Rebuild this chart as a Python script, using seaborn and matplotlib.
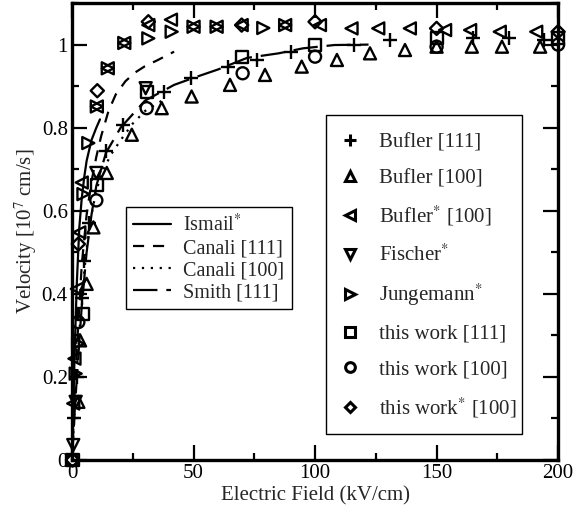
import matplotlib
matplotlib.use("Agg")
import matplotlib.pyplot as plt
from matplotlib.lines import Line2D
from matplotlib.patches import Rectangle
from matplotlib.ticker import MultipleLocator
import seaborn as sns

sns.set_theme(style="ticks")
plt.rcParams["font.family"] = ["Liberation Serif", "DejaVu Serif"]
plt.rcParams["mathtext.fontset"] = "stix"

# ---- model curves (E in kV/cm, v in 1e7 cm/s) ----
ismail_E = [0, 0.5, 1, 1.5, 2, 3, 4, 5, 6, 8, 10, 11.5]
ismail_v = [0, 0.12, 0.24, 0.34, 0.43, 0.56, 0.63, 0.68, 0.72, 0.77, 0.80, 0.82]

canali111_E = [0, 1, 2, 4, 6, 8, 10, 12, 15, 18, 22, 26, 30, 35, 42]
canali111_v = [0, 0.15, 0.27, 0.47, 0.59, 0.67, 0.73, 0.78, 0.84, 0.88, 0.912, 0.933, 0.948, 0.962, 0.983]

canali100_E = [0, 1, 2, 4, 6, 8, 10, 13, 16, 20, 25, 30, 37]
canali100_v = [0, 0.12, 0.22, 0.39, 0.51, 0.59, 0.65, 0.70, 0.735, 0.77, 0.81, 0.84, 0.865]

smith_E = [0, 1, 2, 4, 6, 8, 10, 14, 20, 30, 42, 50, 60, 72, 85, 95, 108, 122]
smith_v = [0, 0.11, 0.20, 0.37, 0.50, 0.59, 0.66, 0.74, 0.80, 0.865, 0.903, 0.92, 0.94, 0.968, 0.979, 0.991, 0.999, 1.0]

# ---- data sets ----
bufler111_E = [1, 2, 4, 5, 7, 14, 21, 38, 49, 64, 76, 90, 116, 131, 165, 180, 194]
bufler111_v = [0.10, 0.20, 0.39, 0.48, 0.57, 0.743, 0.807, 0.887, 0.919, 0.947, 0.963,
               0.983, 1.0, 1.011, 1.015, 1.015, 1.011]

bufler100_E = [2.6, 3.3, 6, 8.8, 14.3, 24.6, 36.9, 49.2, 65, 79.4, 94.5, 109, 122.6,
               137, 150, 164.5, 176.9, 192.6]
bufler100_v = [0.14, 0.288, 0.424, 0.56, 0.691, 0.783, 0.847, 0.875, 0.903, 0.927, 0.947,
               0.963, 0.979, 0.987, 0.995, 0.995, 0.995, 0.995]

buflerS100_E = [0.5, 1, 2, 3, 4, 10.2, 14.7, 21.5, 31.4, 40.7, 50, 59.5, 69.8, 87.7, 102,
                115, 126, 139, 153.5, 163.8, 176, 191]
buflerS100_v = [0.136, 0.244, 0.412, 0.548, 0.668, 0.851, 0.943, 1.004, 1.047, 1.06, 1.043,
                1.043, 1.047, 1.047, 1.047, 1.039, 1.039, 1.039, 1.035, 1.035, 1.031, 1.031]

fischer_E = [0.5, 1.5, 10, 30.3]
fischer_v = [0.036, 0.14, 0.691, 0.895]

jung_E = [1.5, 2.5, 4.7, 6.7, 10.2, 14.7, 21.5, 31.4, 41, 50, 59.5, 78.7, 87.7]
jung_v = [0.208, 0.28, 0.64, 0.763, 0.851, 0.943, 1.004, 1.015, 1.031, 1.043, 1.043, 1.04, 1.047]

tw111_E = [0.2, 4.7, 10.2, 31, 69.8, 100, 150, 200]
tw111_v = [0.0, 0.352, 0.663, 0.887, 0.971, 0.999, 1.015, 1.015]

tw100_E = [0.2, 2.6, 10, 30.7, 70.2, 100, 150, 200]
tw100_v = [0.0, 0.332, 0.625, 0.847, 0.931, 0.971, 0.995, 1.0]

twS100_E = [0.2, 2.6, 10.4, 31.4, 69.8, 100, 150, 200]
twS100_v = [0.0, 0.52, 0.889, 1.055, 1.047, 1.055, 1.039, 1.031]

fig = plt.figure(figsize=(5.73, 5.11), dpi=100)
ax = fig.add_axes([0.1257, 0.0998, 0.8483, 0.8942])

LW = 1.6
line_specs = [
    (ismail_E, ismail_v, "-", r"Ismail$^{*}$"),
    (canali111_E, canali111_v, (0, (5, 4)), "Canali [111]"),
    (canali100_E, canali100_v, (0, (1, 3)), "Canali [100]"),
    (smith_E, smith_v, (0, (11, 4)), "Smith [111]"),
]
for xs, ys, ls, lab in line_specs:
    sns.lineplot(x=xs, y=ys, ax=ax, color="black", linewidth=LW, linestyle=ls,
                 sort=False, estimator=None, legend=False)

MS = 75
EW = 1.7
point_specs = [
    (bufler111_E, bufler111_v, "+", "Bufler [111]"),
    (bufler100_E, bufler100_v, "^", "Bufler [100]"),
    (buflerS100_E, buflerS100_v, "<", r"Bufler$^{*}$ [100]"),
    (fischer_E, fischer_v, "v", r"Fischer$^{*}$"),
    (jung_E, jung_v, ">", r"Jungemann$^{*}$"),
    (tw111_E, tw111_v, "s", "this work [111]"),
    (tw100_E, tw100_v, "o", "this work [100]"),
    (twS100_E, twS100_v, "D", r"this work$^{*}$ [100]"),
]
for xs, ys, mk, lab in point_specs:
    if mk == "+":
        sns.scatterplot(x=xs, y=ys, ax=ax, marker=mk, s=MS * 1.3, color="black",
                        linewidth=EW, legend=False, zorder=3, clip_on=False)
    else:
        size = MS * 0.6 if mk == "D" else MS
        sns.scatterplot(x=xs, y=ys, ax=ax, marker=mk, s=size, facecolor="none",
                        edgecolor="black", linewidth=EW, legend=False, zorder=3,
                        clip_on=False)

ax.set_xlim(0, 200)
ax.set_ylim(0, 1.1)
ax.xaxis.set_major_locator(MultipleLocator(50))
ax.xaxis.set_minor_locator(MultipleLocator(25))
ax.yaxis.set_major_locator(MultipleLocator(0.2))
ax.yaxis.set_minor_locator(MultipleLocator(0.1))
ax.set_yticks([0, 0.2, 0.4, 0.6, 0.8, 1.0])
ax.set_yticklabels(["0", "0.2", "0.4", "0.6", "0.8", "1"])

ax.tick_params(which="both", direction="in", top=True, right=True, width=1.6,
               labelsize=15, colors="black")
ax.tick_params(which="major", length=11, pad=3)
ax.tick_params(which="minor", length=5)
for sp in ax.spines.values():
    sp.set_linewidth(2.4)
    sp.set_color("black")
    sp.set_zorder(4)

ax.set_xlabel("Electric Field (kV/cm)", fontsize=15, labelpad=2)
ax.set_ylabel(r"Velocity [10$^{7}$ cm/s]", fontsize=15, labelpad=2)

# legend for the model curves
line_handles = [Line2D([], [], color="black", linewidth=LW, linestyle=ls, label=lab)
                for _, _, ls, lab in line_specs]
leg1 = ax.legend(handles=line_handles, loc="upper left", bbox_to_anchor=(0.111, 0.554),
                 fontsize=14.5, frameon=True, fancybox=False, edgecolor="black",
                 framealpha=1, handlelength=1.9, handletextpad=0.6, labelspacing=0.15,
                 borderpad=0.35, borderaxespad=0)
leg1.get_frame().set_linewidth(1.0)
leg1.set_zorder(5)
ax.add_artist(leg1)

# legend for the data sets, inside its own box
box = Rectangle((0.5226, 0.0569), 0.4034, 0.6981, transform=ax.transAxes,
                facecolor="white", edgecolor="black", linewidth=1.0, zorder=5)
ax.add_patch(box)

pt_handles = []
for _, _, mk, lab in point_specs:
    if mk == "+":
        h = Line2D([], [], linestyle="none", marker=mk, markersize=8, color="black",
                   markeredgewidth=2.2, label=lab)
    else:
        h = Line2D([], [], linestyle="none", marker=mk,
                   markersize=5.5 if mk == "D" else 7, markerfacecolor="none",
                   markeredgecolor="black", markeredgewidth=2.2, label=lab)
    pt_handles.append(h)
leg2 = ax.legend(handles=pt_handles, loc="upper left", bbox_to_anchor=(0.544, 0.716),
                 fontsize=15, frameon=False, handlelength=1.3, handletextpad=0.75,
                 labelspacing=0.77, borderpad=0, borderaxespad=0)
leg2.set_zorder(6)

fig.savefig("out.png", dpi=100)
